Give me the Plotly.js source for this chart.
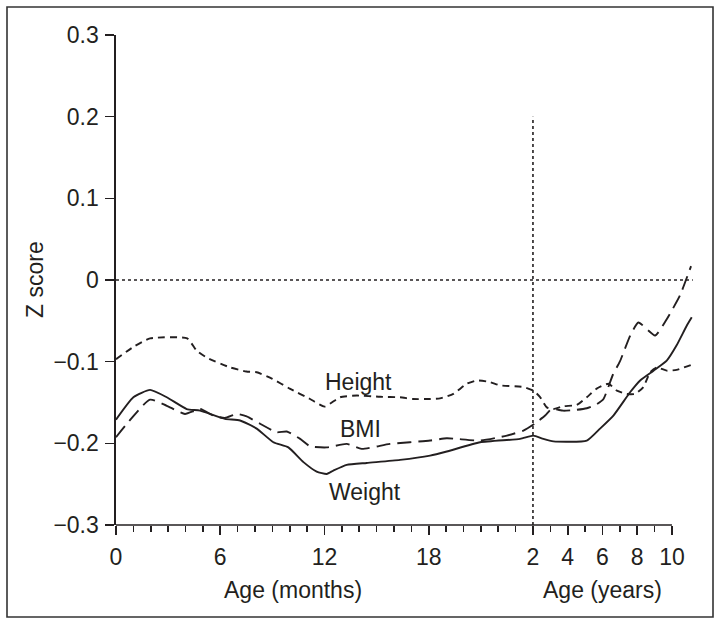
<!DOCTYPE html>
<html>
<head>
<meta charset="utf-8">
<script src="https://cdn.plot.ly/plotly-3.0.1.min.js"></script>
<style>html,body{margin:0;padding:0;background:#fff;}#chart{width:721px;height:626px;}</style>
</head>
<body>
<div id="chart"></div>
<script>
// x positions: 0–24 = age in months; beyond 24 each unit = 1 year (24 = 2 y, 32 = 10 y)
const heightX = [0, 1.0, 1.96, 4.1, 4.64, 5.22, 6.56, 7.5, 8.1, 9.0, 10.0, 11.17, 12.0, 12.9, 13.86, 15.2, 16.35, 17.1, 18.08, 18.65, 19.42, 20.19, 20.77, 21.53, 22.1, 23.45, 24.02, 24.4, 24.8, 25.18, 25.75, 26.52, 27.1, 27.67, 28.35, 28.83, 29.4, 29.88, 30.36, 30.74, 31.13, 31.7, 32.27, 33.1];
const heightY = [-0.097, -0.082, -0.0715, -0.0715, -0.0865, -0.095, -0.107, -0.112, -0.113, -0.121, -0.133, -0.1457, -0.155, -0.1436, -0.1415, -0.143, -0.1436, -0.1457, -0.1457, -0.145, -0.1395, -0.127, -0.123, -0.125, -0.129, -0.131, -0.1355, -0.143, -0.156, -0.158, -0.1546, -0.153, -0.1436, -0.133, -0.127, -0.1355, -0.1395, -0.1395, -0.131, -0.113, -0.107, -0.111, -0.11, -0.104];

const bmiX = [0, 1.96, 2.92, 3.97, 4.84, 5.6, 6.27, 6.95, 7.52, 8.29, 9.25, 9.83, 10.6, 11.17, 12.13, 13.28, 14.14, 15.77, 18.08, 19.04, 20.96, 22.5, 23.45, 24.1, 24.7, 25.07, 25.75, 26.5, 27.1, 27.6, 28.05, 28.6, 29.0, 29.6, 30.07, 31.03, 31.7, 32.46, 33.1];
const bmiY = [-0.1925, -0.1465, -0.154, -0.164, -0.158, -0.166, -0.169, -0.164, -0.167, -0.176, -0.1865, -0.1855, -0.1946, -0.2036, -0.205, -0.2007, -0.2068, -0.2007, -0.1966, -0.1938, -0.1966, -0.1905, -0.1844, -0.176, -0.166, -0.158, -0.160, -0.159, -0.157, -0.153, -0.146, -0.116, -0.100, -0.068, -0.052, -0.068, -0.048, -0.019, 0.017];

const weightX = [0, 1.0, 1.96, 2.92, 4.07, 4.84, 6.27, 7.14, 8.1, 9.06, 9.92, 10.79, 11.55, 12.13, 12.51, 13.28, 14.43, 16.35, 18.08, 19.04, 20.96, 23.26, 24.02, 24.6, 25.18, 27.1, 27.86, 28.63, 29.59, 30.17, 30.94, 31.7, 32.27, 32.85, 33.14];
const weightY = [-0.171, -0.1436, -0.1346, -0.1436, -0.158, -0.160, -0.170, -0.172, -0.182, -0.1987, -0.205, -0.223, -0.2346, -0.2375, -0.2334, -0.2264, -0.224, -0.2203, -0.215, -0.21, -0.1987, -0.1946, -0.1905, -0.1946, -0.1976, -0.1966, -0.182, -0.166, -0.1375, -0.123, -0.111, -0.0987, -0.080, -0.056, -0.0456];

const xTickVals = [0, 6, 12, 18, 24, 26, 28, 30, 32];
const xTickText = ['0', '6', '12', '18', '2', '4', '6', '8', '10'];
const xMinorVals = [1,2,3,4,5,7,8,9,10,11,13,14,15,16,17,19,20,21,22,23,25,27,29,31];
const yTickVals = [-0.3, -0.2, -0.1, 0, 0.1, 0.2, 0.3];
const yTickText = ['\u22120.3', '\u22120.2', '\u22120.1', '0', '0.1', '0.2', '0.3'];

const seriesLabels = [
  {text: 'Height', x: 13.93, y: -0.1255},
  {text: 'BMI', x: 14.07, y: -0.1824},
  {text: 'Weight', x: 14.33, y: -0.259}
];

const INK = '#231f20';
const FONT = '"Liberation Sans", Arial, Helvetica, sans-serif';
const W = 721, H = 626;
const M = {l: 116, r: 23, t: 35, b: 101};
const XR = [0, 33.5];
const pw = W - M.l - M.r, ph = H - M.t - M.b;
const px2paperX = p => (p - M.l) / pw;
const px2paperY = p => (H - M.b - p) / ph;

const traces = [
  {x: heightX, y: heightY, mode: 'lines', line: {color: INK, width: 1.9, dash: '7px,5px', shape: 'spline', smoothing: 0.5}, hoverinfo: 'skip'},
  {x: bmiX, y: bmiY, mode: 'lines', line: {color: INK, width: 1.9, dash: '14px,7px', shape: 'spline', smoothing: 0.5}, hoverinfo: 'skip'},
  {x: weightX, y: weightY, mode: 'lines', line: {color: INK, width: 1.9, shape: 'spline', smoothing: 0.5}, hoverinfo: 'skip'}
];

const annotations = seriesLabels.map(s => ({
  text: s.text, x: s.x, y: s.y, xref: 'x', yref: 'y', showarrow: false,
  font: {family: FONT, size: 23, color: INK}, xanchor: 'center', yanchor: 'middle'
}));
annotations.push(
  {text: 'Age (months)', x: 10.2, xref: 'x', y: px2paperY(590), yref: 'paper', showarrow: false, xanchor: 'center', yanchor: 'middle', font: {family: FONT, size: 23, color: INK}},
  {text: 'Age (years)', x: 28.0, xref: 'x', y: px2paperY(590), yref: 'paper', showarrow: false, xanchor: 'center', yanchor: 'middle', font: {family: FONT, size: 23, color: INK}},
  {text: 'Z score', x: px2paperX(35), xref: 'paper', y: 0, yref: 'y', showarrow: false, textangle: -90, xanchor: 'center', yanchor: 'middle', font: {family: FONT, size: 23, color: INK}}
);

const shapes = [
  // x-axis line, ending at the 10-year tick
  {type: 'line', xref: 'paper', yref: 'paper', x0: 0, x1: (32 - XR[0]) / (XR[1] - XR[0]), y0: 0, y1: 0, line: {color: INK, width: 1.6}},
  // reference lines
  {type: 'line', xref: 'x', yref: 'y', x0: 0, x1: 33.2, y0: 0, y1: 0, line: {color: INK, width: 1.6, dash: 'dot'}},
  {type: 'line', xref: 'x', yref: 'y', x0: 24, x1: 24, y0: -0.3, y1: 0.2, line: {color: INK, width: 1.6, dash: 'dot'}},
  // frame around the figure
  {type: 'rect', xref: 'paper', yref: 'paper', x0: px2paperX(7), x1: px2paperX(713), y0: px2paperY(617), y1: px2paperY(7), line: {color: '#333', width: 1.6}, layer: 'below'}
];

const layout = {
  width: W, height: H,
  margin: M,
  paper_bgcolor: '#fff', plot_bgcolor: 'rgba(0,0,0,0)',
  showlegend: false,
  font: {family: FONT, size: 23, color: INK},
  xaxis: {
    range: XR, showgrid: false, zeroline: false, showline: false,
    tickmode: 'array', tickvals: xTickVals, ticktext: xTickText,
    ticks: 'outside', ticklen: 9, tickwidth: 1.6, tickcolor: INK,
    ticklabelstandoff: 2,
    tickfont: {family: FONT, size: 23, color: INK},
    minor: {tickmode: 'array', tickvals: xMinorVals, ticks: 'outside', ticklen: 6, tickwidth: 1.6, tickcolor: INK, showgrid: false},
    fixedrange: true
  },
  yaxis: {
    range: [-0.3, 0.3], showgrid: false, zeroline: false, showline: true, linecolor: INK, linewidth: 1.6,
    tickmode: 'array', tickvals: yTickVals, ticktext: yTickText,
    ticks: 'outside', ticklen: 9, tickwidth: 1.6, tickcolor: INK,
    ticklabelstandoff: 2,
    tickfont: {family: FONT, size: 23, color: INK},
    fixedrange: true
  },
  annotations: annotations,
  shapes: shapes
};

Plotly.newPlot('chart', traces, layout, {displayModeBar: false, staticPlot: true});
</script>
</body>
</html>
